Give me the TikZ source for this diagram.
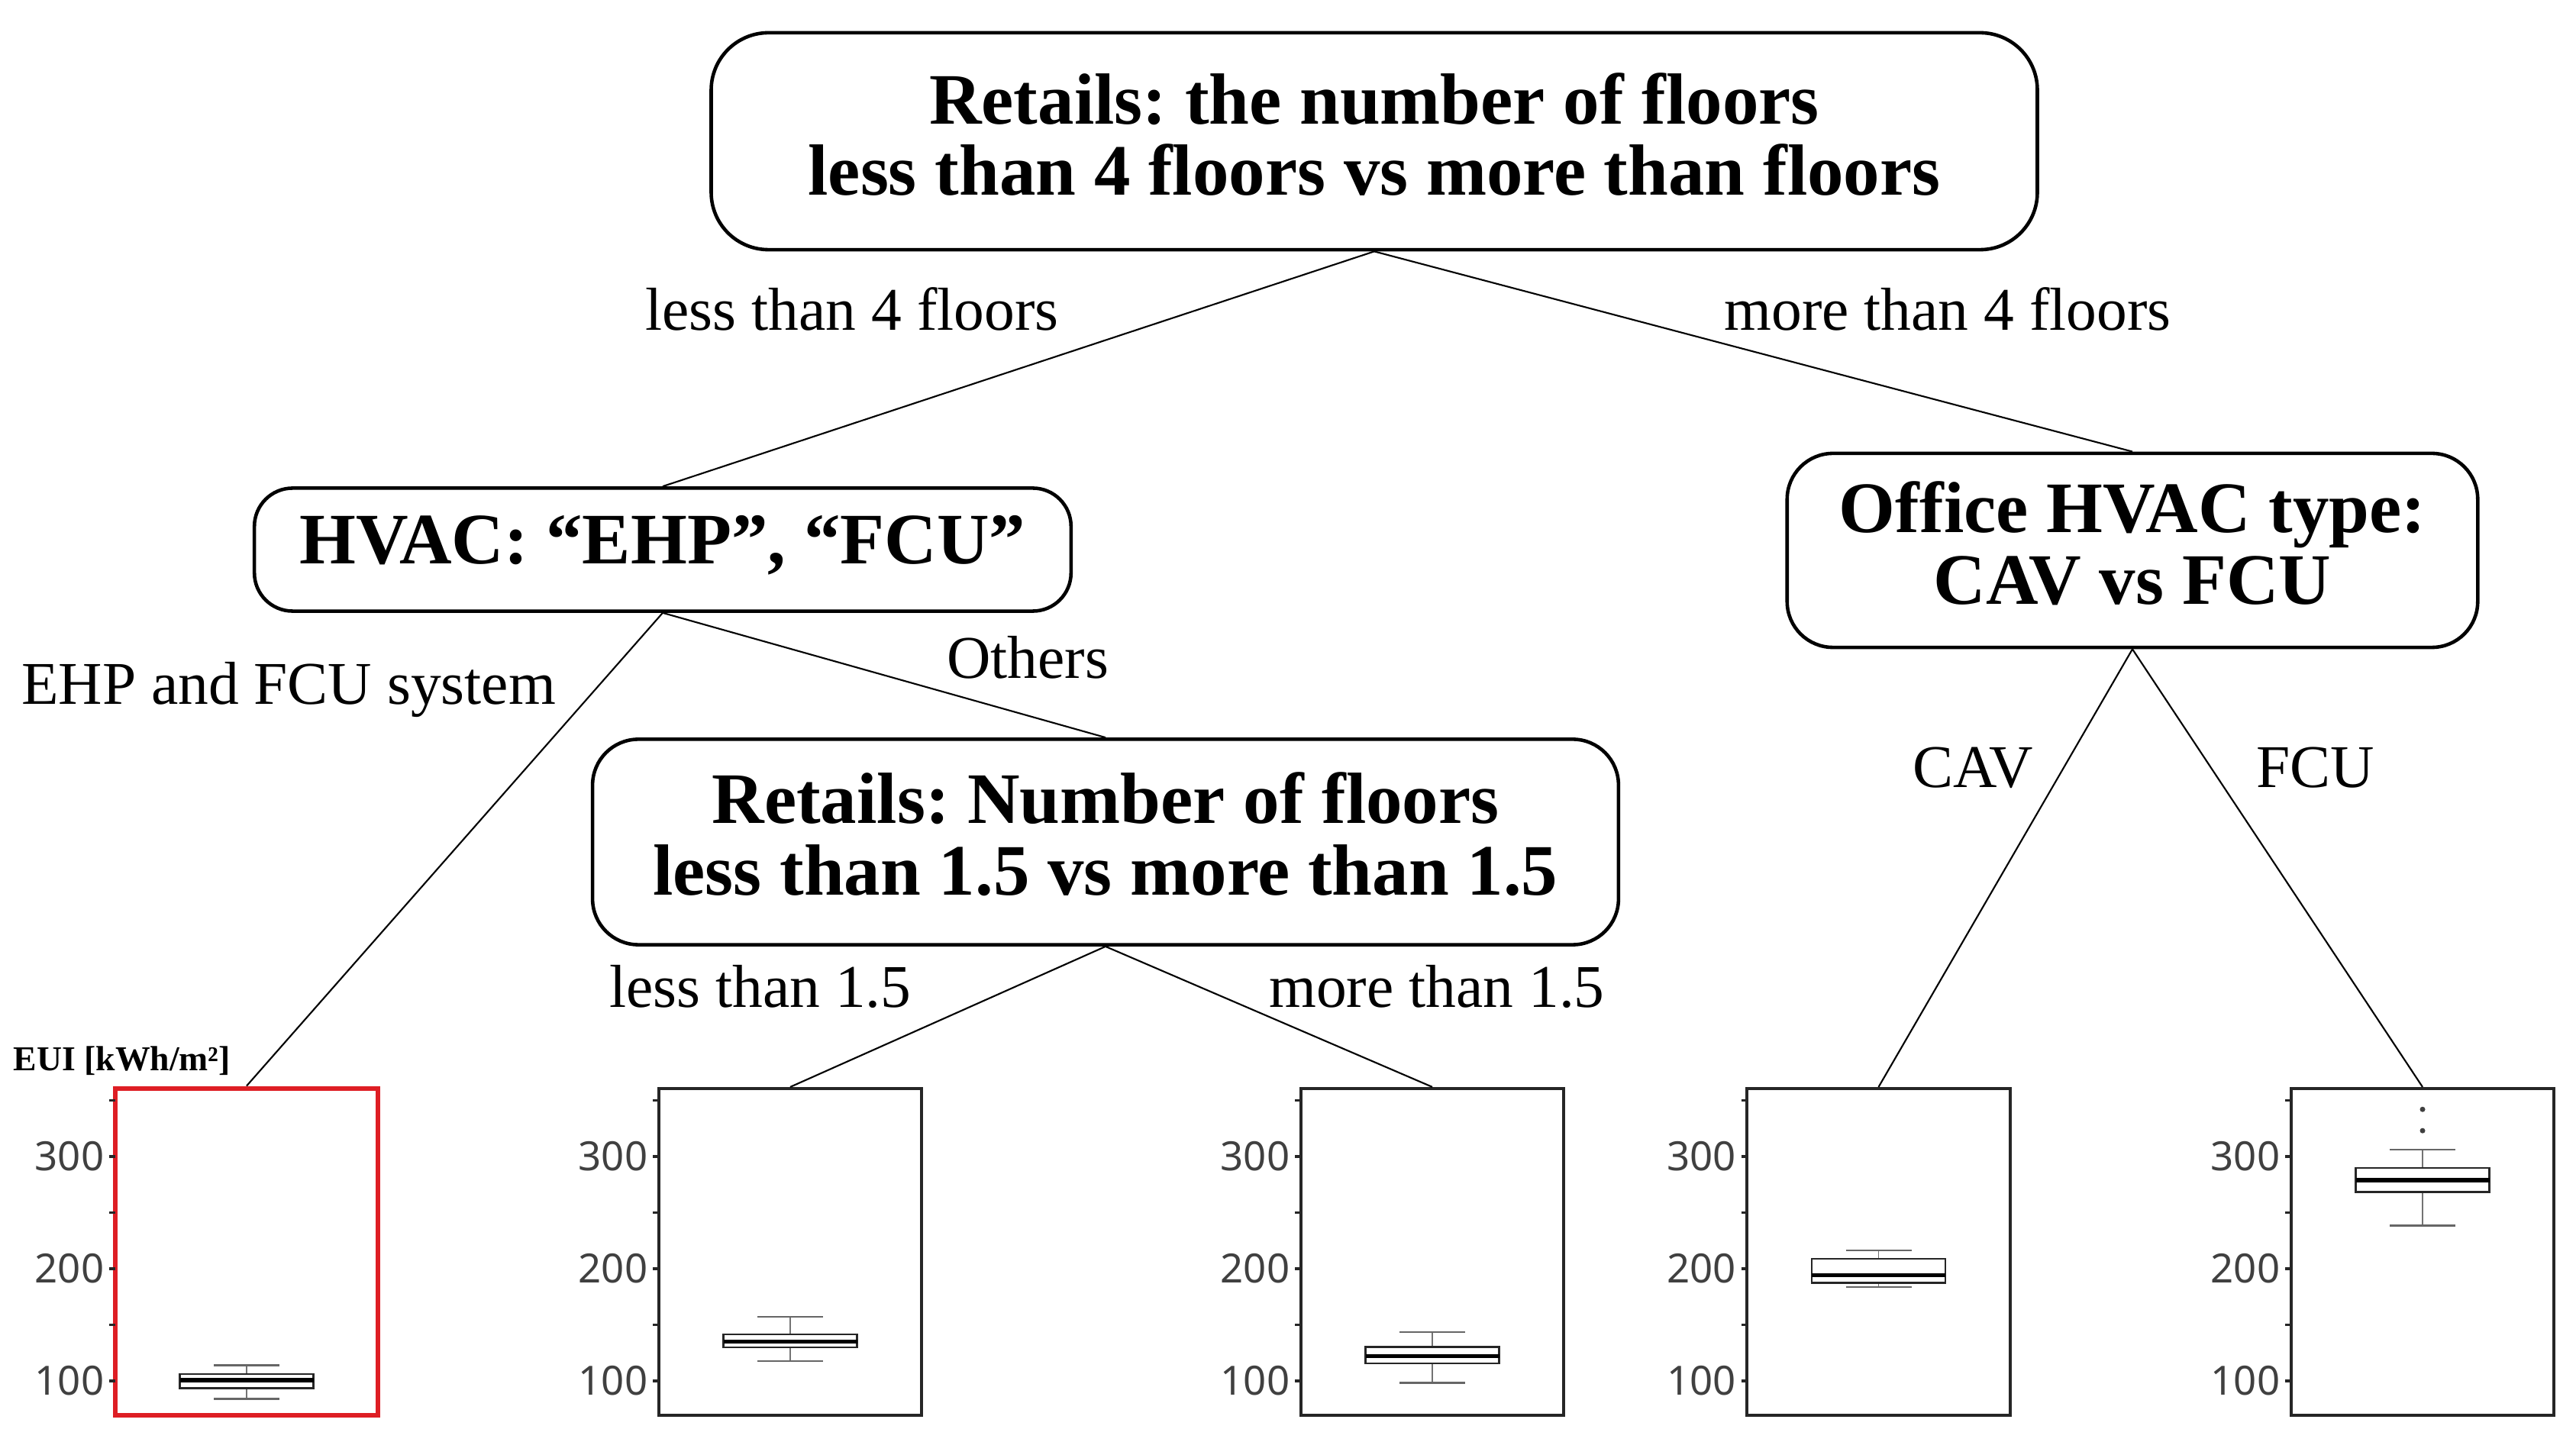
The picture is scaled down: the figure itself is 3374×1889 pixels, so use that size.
\documentclass[tikz,border=0pt]{standalone}
\usepackage{fontspec}
\setmainfont{Liberation Serif}
\newfontfamily\ticksf{Noto Sans}
\definecolor{boxred}{RGB}{222,30,36}
\newcommand\yv[1]{1809-(#1-100)*1.47}
\newcommand\mybp[6]{%
  \draw[line width=0.35pt, black!55] ({#1},{\yv{#2}}) -- ({#1},{\yv{#6}});
  \draw[line width=0.7pt, black!60] ({#1-43},{\yv{#2}}) -- ({#1+43},{\yv{#2}});
  \draw[line width=0.7pt, black!60] ({#1-43},{\yv{#6}}) -- ({#1+43},{\yv{#6}});
  \draw[line width=0.7pt, black!85, fill=white] ({#1-87.5},{\yv{#3}}) rectangle ({#1+87.5},{\yv{#5}});
  \draw[line width=1.6pt, black] ({#1-87.5},{\yv{#4}}) -- ({#1+87.5},{\yv{#4}});
}
\newcommand\myticks[2]{%
  \foreach \v in {100,150,...,350}
    \draw[line width=1.1pt, black!85] ({#1-8},{\yv{\v}}) -- ({#1},{\yv{\v}});
  \foreach \v in {100,200,300}
    \node[tlabel] (tk-#2-\v) at ({#1-14},{\yv{\v}}) {\v};
}
\begin{document}
\frenchspacing
\begin{tikzpicture}[x=0.01cm,y=-0.01cm,
  dnode/.style={draw=black, line width=1.3pt, rounded corners=0.6cm, inner sep=0pt},
  dtext/.style={align=center, inner sep=0pt, font=\bfseries\fontsize{27}{26.6}\selectfont},
  elabel/.style={anchor=base, inner sep=0pt, font=\fontsize{22.6}{26}\selectfont},
  link/.style={line width=0.6pt, black},
  frame/.style={draw=black!85, line width=1.1pt, minimum width=3.44cm,
    minimum height=4.28cm, inner sep=0pt},
  tlabel/.style={anchor=east, inner sep=0pt, font=\ticksf\fontsize{15}{15}\selectfont, text=black!75},
]
\useasboundingbox (0,0) rectangle (3374,1889);

% decision nodes
\node[dnode, rounded corners=0.75cm, minimum width=17.36cm, minimum height=2.84cm] (top) at (1800,185) {};
\node[dtext] (toptxt) at (1800,176)
  {Retails: the number of floors\\less than 4 floors vs more than floors};
\node[dnode, rounded corners=0.5cm, minimum width=10.69cm, minimum height=1.61cm] (hvac) at (868,720) {};
\node[dtext] (hvactxt) at (868,714) {HVAC: “EHP”, “FCU”};
\node[dnode, minimum width=9.04cm, minimum height=2.54cm] (office) at (2793,721) {};
\node[dtext] (officetxt) at (2793,712) {Office HVAC type:\\CAV vs FCU};
\node[dnode, minimum width=13.43cm, minimum height=2.69cm] (ret) at (1448,1103) {};
\node[dtext] (rettxt) at (1448,1093) {Retails: Number of floors\\less than 1.5 vs more than 1.5};

% leaf frames
\node[frame, draw=boxred, line width=1.9pt] (b1) at (323,1640) {};
\node[frame] (b2) at (1035,1640) {};
\node[frame] (b3) at (1876,1640) {};
\node[frame] (b4) at (2460.5,1640) {};
\node[frame] (b5) at (3173,1640) {};

% connectors
\draw[link] (top.south) -- (hvac.north);
\draw[link] (top.south) -- (office.north);
\draw[link] (hvac.south) -- (b1.north);
\draw[link] (hvac.south) -- (ret.north);
\draw[link] (ret.south) -- (b2.north);
\draw[link] (ret.south) -- (b3.north);
\draw[link] (office.south) -- (b4.north);
\draw[link] (office.south) -- (b5.north);

% edge labels
\node[elabel] (l1) at (1116,433) {less than 4 floors};
\node[elabel] (l2) at (2551,433) {more than 4 floors};
\node[elabel] (l3) at (378,923) {EHP and FCU system};
\node[elabel] (l4) at (1346,889) {Others};
\node[elabel] (l5) at (2584,1032) {CAV};
\node[elabel] (l6) at (3033,1032) {FCU};
\node[elabel] (l7) at (996,1320) {less than 1.5};
\node[elabel] (l8) at (1882,1320) {more than 1.5};

% axis label
\node[anchor=west, inner sep=0pt, font=\bfseries\fontsize{13}{15}\selectfont] (eui) at (17,1390) {EUI [kWh/m²]};

% ticks
\myticks{151}{a}
\myticks{863}{b}
\myticks{1704}{c}
\myticks{2288.5}{d}
\myticks{3001}{e}

% box plots
\mybp{323}{84}{93.6}{100.5}{106}{114}
\mybp{1035}{117.7}{130}{135}{141.5}{157}
\mybp{1876}{98.2}{115.6}{122}{130.4}{143.5}
\mybp{2460.5}{183.5}{187.5}{194.3}{209}{216.5}
\mybp{3173}{238.5}{268.5}{278.7}{289.8}{306}
\fill[black!75] (3173,{\yv{342}}) circle (3.5);
\fill[black!75] (3173,{\yv{323}}) circle (3.5);
\end{tikzpicture}
\end{document}
